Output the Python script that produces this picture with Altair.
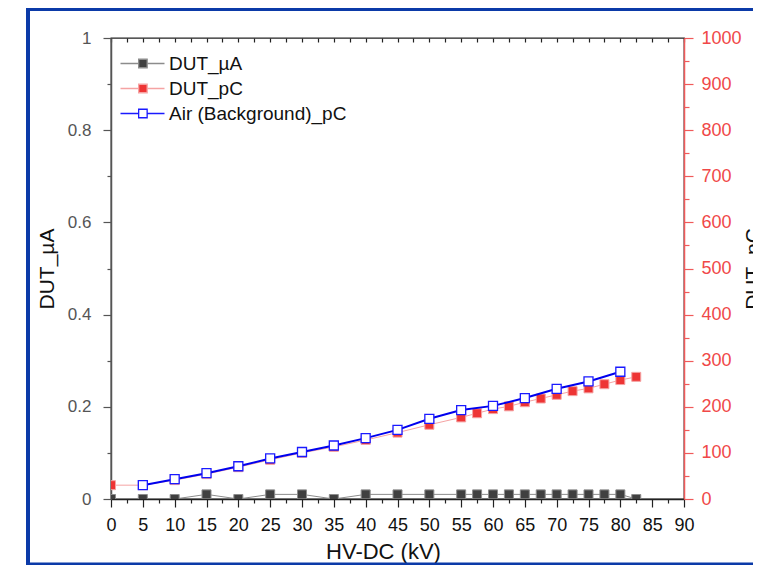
import altair as alt
import pandas as pd

# ---------------- data ----------------
series_names = ["DUT_µA", "DUT_pC", "Air (Background)_pC"]

kv = [0, 5, 10, 15, 20, 25, 30, 35, 40, 45, 50, 55, 57.5, 60, 62.5, 65,
      67.5, 70, 72.5, 75, 77.5, 80, 82.5]
dut_ua = [0, 0, 0, 0.01, 0, 0.01, 0.01, 0, 0.01, 0.01, 0.01, 0.01, 0.01,
          0.01, 0.01, 0.01, 0.01, 0.01, 0.01, 0.01, 0.01, 0.01, 0]
dut_pc = [30, 30, 41, 54, 69, 85, 100, 113, 128, 144, 161, 177, 186, 195,
          201, 210, 218, 226, 234, 240, 249, 258, 265]

air_kv = [5, 10, 15, 20, 25, 30, 35, 40, 45, 50, 55, 60, 65, 70, 75, 80]
air_pc = [30, 43, 56, 71, 88, 102, 116, 132, 150, 174, 193, 202, 219, 239,
          255, 276]

x_major = [i * 5 for i in range(19)]
x_minor = [2.5 + i * 5 for i in range(18)]
x_all = [i * 2.5 for i in range(37)]
yl_major = [round(i * 0.2, 1) for i in range(6)]
yl_minor = [0.1, 0.3, 0.5, 0.7, 0.9]
yr_major = list(range(0, 1001, 100))
yr_minor = list(range(50, 1000, 100))

df_ua = pd.DataFrame({"kV": kv, "value": dut_ua, "series": series_names[0]})
df_pc = pd.DataFrame({"kV": kv, "value": dut_pc, "series": series_names[1]})
df_air = pd.DataFrame({"kV": air_kv, "value": air_pc, "series": series_names[2]})
df_frame = pd.DataFrame({"a": [0]})

# ---------------- styling ----------------
FONT = "Liberation Sans"
fill_colors = ["#404040", "#ee3434", "#ffffff"]
stroke_colors = ["#8c8c8c", "#f5a3a3", "#1a1aff"]
RED_AXIS = "#f05a5a"

x_scale = alt.Scale(domain=[0, 90], nice=False, zero=False)
yl_scale = alt.Scale(domain=[0, 1], nice=False)
yr_scale = alt.Scale(domain=[0, 1000], nice=False)
fill_scale = alt.Scale(domain=series_names, range=fill_colors)
stroke_scale = alt.Scale(domain=series_names, range=stroke_colors)

legend_path = "M-1,0H2.63M4.33,0H7.8M2.63,-0.85H4.33V0.85H2.63Z"
legend = alt.Legend(
    title=None, orient="none", legendX=5, legendY=16,
    symbolType=legend_path, symbolSize=100, symbolStrokeWidth=1.3,
    labelFontSize=19, labelFont=FONT, labelColor="#111111", labelLimit=0,
    labelOffset=34, rowPadding=5, padding=0, symbolOpacity=1,
)

bottom_axis = alt.Axis(
    orient="bottom", values=x_major, format="~g", tickSize=8,
    labelFontSize=18, labelColor="#111111", labelPadding=9,
    domainColor="#222222", tickColor="#222222", domainWidth=1.5, tickWidth=1.2,
    title="HV-DC (kV)", titleFontSize=22, titleColor="#111111", titlePadding=7,
    titleX=272, titleAlign="center",
    labelFlush=False, labelOverlap=False,
)
bottom_minor = alt.Axis(
    orient="bottom", values=x_minor, labels=False, domain=False, tickSize=4,
    tickColor="#222222", tickWidth=1.2, title=None,
)
top_axis = alt.Axis(
    orient="top", values=x_all, labels=False, domain=False, ticks=True,
    tickSize=4, offset=-4, tickColor="#222222", tickWidth=1.2, title=None,
)
left_axis = alt.Axis(
    orient="left", values=yl_major, format="~g", tickSize=8,
    labelFontSize=17, labelColor="#555555", labelPadding=12,
    domainColor="#555555", tickColor="#555555", domainWidth=1.5, tickWidth=1.2,
    title="DUT_µA", titleFontSize=21, titleColor="#111111", titlePadding=10,
    labelFlush=False, labelOverlap=False,
)
left_minor = alt.Axis(
    orient="left", values=yl_minor, labels=False, domain=False, tickSize=4,
    tickColor="#555555", tickWidth=1.2, title=None,
)
right_axis = alt.Axis(
    orient="right", values=yr_major, format="d", tickSize=9,
    labelFontSize=18, labelColor="#f04848", labelPadding=8,
    domainColor=RED_AXIS, tickColor=RED_AXIS, domainWidth=1.5, tickWidth=1.2,
    title="DUT_pC", titleFontSize=21, titleColor="#111111", titlePadding=1,
    titleAngle=270, titleBaseline="top",
    labelFlush=False, labelOverlap=False,
)
right_minor = alt.Axis(
    orient="right", values=yr_minor, labels=False, domain=False, tickSize=5,
    tickColor=RED_AXIS, tickWidth=1.2, title=None,
)

# ---------------- frame (decoration) ----------------
frame = alt.Chart(df_frame).mark_rect(
    fillOpacity=0, stroke="#0b3aa8", strokeWidth=4
).encode(
    x=alt.value(-83), x2=alt.value(720), y=alt.value(-29), y2=alt.value(526.5)
)

# ---------------- µA series (left axis) ----------------
ua_line = alt.Chart(df_ua).mark_line(color=stroke_colors[0], strokeWidth=1, clip=True).encode(
    x=alt.X("kV:Q", scale=x_scale, axis=bottom_axis),
    y=alt.Y("value:Q", scale=yl_scale, axis=left_axis),
)
ua_pts = alt.Chart(df_ua).mark_square(size=81, strokeWidth=1, opacity=1, clip=True).encode(
    x=alt.X("kV:Q", scale=x_scale, axis=bottom_minor),
    y=alt.Y("value:Q", scale=yl_scale, axis=left_minor),
    fill=alt.Fill("series:N", scale=fill_scale, legend=legend),
    stroke=alt.Stroke("series:N", scale=stroke_scale, legend=legend),
)

# ---------------- pC series (right axis) ----------------
pc_line = alt.Chart(df_pc).mark_line(color=stroke_colors[1], strokeWidth=1, clip=True).encode(
    x=alt.X("kV:Q", scale=x_scale, axis=top_axis),
    y=alt.Y("value:Q", scale=yr_scale, axis=right_axis),
)
pc_pts = alt.Chart(df_pc).mark_square(size=81, strokeWidth=1, opacity=1, clip=True).encode(
    x=alt.X("kV:Q", scale=x_scale, axis=None),
    y=alt.Y("value:Q", scale=yr_scale, axis=right_minor),
    fill=alt.Fill("series:N", scale=fill_scale, legend=legend),
    stroke=alt.Stroke("series:N", scale=stroke_scale, legend=legend),
)
air_line = alt.Chart(df_air).mark_line(color="#0000ee", strokeWidth=2, clip=True).encode(
    x=alt.X("kV:Q", scale=x_scale, axis=None),
    y=alt.Y("value:Q", scale=yr_scale, axis=None),
)
air_pts = alt.Chart(df_air).mark_square(size=81, strokeWidth=1.3, opacity=1, clip=True).encode(
    x=alt.X("kV:Q", scale=x_scale, axis=None),
    y=alt.Y("value:Q", scale=yr_scale, axis=None),
    fill=alt.Fill("series:N", scale=fill_scale, legend=legend),
    stroke=alt.Stroke("series:N", scale=stroke_scale, legend=legend),
)

chart = alt.layer(
    frame, ua_line, ua_pts, pc_line, pc_pts, air_line, air_pts
).resolve_scale(
    y="independent"
).resolve_axis(
    x="independent", y="independent"
).properties(
    width=573, height=461,
    autosize=alt.AutoSizeParams(type="none"),
    padding={"left": 103, "top": 30, "right": 69, "bottom": 66},
    background="white",
).configure_view(
    stroke="#222222", strokeWidth=1.3
).configure_axis(
    grid=False, labelFont=FONT, titleFont=FONT, titleFontWeight="normal"
).configure_legend(
    labelFont=FONT
)

chart.save("out.html", embed_options={"renderer": "svg", "actions": False})
